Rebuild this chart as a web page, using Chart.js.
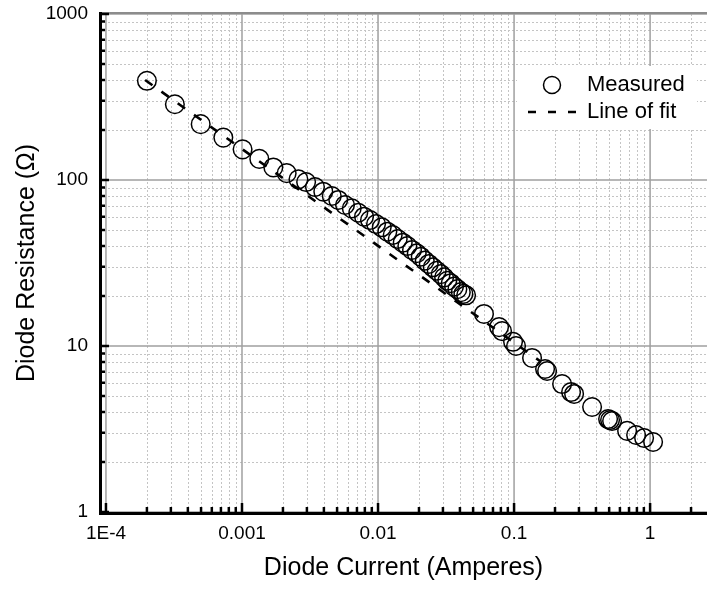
<!DOCTYPE html>
<html>
<head>
<meta charset="utf-8">
<script src="https://cdn.jsdelivr.net/npm/chart.js@4/dist/chart.umd.min.js"></script>
<style>
    html, body { margin: 0; padding: 0; background: #ffffff; }
    #wrap { width: 707px; height: 589px; position: relative; }
</style>
</head>
<body>
<div id="wrap"><canvas id="diodeChart"></canvas></div>
<script>
// measured points (current in A, resistance in ohm)
const measuredCurrent = [
    2.0e-4, 3.21e-4, 4.97e-4, 7.29e-4, 1.01e-3, 1.34e-3, 1.70e-3, 2.13e-3, 2.60e-3,
    2.96e-3, 3.44e-3, 3.96e-3, 4.57e-3, 5.10e-3, 5.72e-3, 6.41e-3, 7.16e-3, 7.89e-3,
    8.73e-3, 9.67e-3, 1.065e-2, 1.171e-2, 1.282e-2, 1.396e-2, 1.519e-2, 1.642e-2,
    1.778e-2, 1.926e-2, 2.061e-2, 2.205e-2, 2.36e-2, 2.525e-2, 2.70e-2, 2.89e-2,
    3.06e-2, 3.23e-2, 3.42e-2, 3.62e-2, 3.83e-2, 4.06e-2, 4.24e-2, 4.44e-2,
    6.01e-2, 7.76e-2, 8.16e-2, 9.83e-2, 0.1034, 0.1356, 0.169, 0.1749, 0.2254,
    0.2625, 0.2762, 0.3746, 0.491, 0.5078, 0.5254, 0.6776, 0.789, 0.9035, 1.052
];
const measuredResistance = [
    396, 286, 217, 180, 153, 134, 119, 110, 101,
    97.2, 90.7, 85.0, 80.1, 75.8, 70.7, 67.5, 63.5, 60.1,
    57.4, 54.3, 51.9, 48.8, 46.6, 44.1, 41.9, 40.0,
    37.9, 36.2, 34.5, 32.7, 31.2, 29.8, 28.4, 27.1,
    25.9, 24.7, 23.9, 22.8, 22.0, 21.1, 20.6, 20.2,
    15.6, 13.0, 12.3, 10.6, 10.0, 8.47, 7.27, 7.07, 5.90,
    5.28, 5.14, 4.29, 3.63, 3.58, 3.53, 3.08, 2.91, 2.79, 2.64
];

// straight line of fit (log-log), end points
const fitCurrent = [1.94e-4, 0.155];
const fitResistance = [400, 8.12];

const xTickValues = [1e-4, 1e-3, 1e-2, 1e-1, 1];
const xTickLabels = ['1E-4', '0.001', '0.01', '0.1', '1'];
const yTickValues = [1, 10, 100, 1000];
const yTickLabels = ['1', '10', '100', '1000'];

const X_MIN = 9.04e-5;
const X_MAX = 2.62;
const Y_MIN = 1;
const Y_MAX = 1000;

const FONT = "'Liberation Sans', Arial, sans-serif";

function logSteps(min, max) {
    const out = [];
    for(let d = Math.floor(Math.log10(min)); d <= Math.ceil(Math.log10(max)); d++) {
        for(let m = 1; m <= 9; m++) {
            const v = m * Math.pow(10, d);
            if(v >= min * 0.9999 && v <= max * 1.0001) out.push({ v: v, major: m === 1 });
        }
    }
    return out;
}

// grid, axis lines and inward ticks
const frame = {
    id: 'frame',
    beforeDatasetsDraw(chart) {
        const ctx = chart.ctx;
        const area = chart.chartArea;
        const xs = chart.scales.x;
        const ys = chart.scales.y;
        const xSteps = logSteps(X_MIN, X_MAX);
        const ySteps = logSteps(Y_MIN, Y_MAX);

        ctx.save();
        // minor dotted grid
        ctx.strokeStyle = '#c4c4c4';
        ctx.lineWidth = 1;
        ctx.setLineDash([2, 2]);
        ctx.beginPath();
        xSteps.filter(s => !s.major).forEach(s => {
            const px = Math.round(xs.getPixelForValue(s.v)) + 0.5;
            ctx.moveTo(px, area.top); ctx.lineTo(px, area.bottom);
        });
        ySteps.filter(s => !s.major).forEach(s => {
            const py = Math.round(ys.getPixelForValue(s.v)) + 0.5;
            ctx.moveTo(area.left, py); ctx.lineTo(area.right, py);
        });
        ctx.stroke();

        // major solid grid
        ctx.setLineDash([]);
        ctx.strokeStyle = '#a0a0a0';
        ctx.lineWidth = 1.5;
        ctx.beginPath();
        xSteps.filter(s => s.major).forEach(s => {
            const px = xs.getPixelForValue(s.v);
            ctx.moveTo(px, area.top); ctx.lineTo(px, area.bottom);
        });
        ySteps.filter(s => s.major).forEach(s => {
            const py = ys.getPixelForValue(s.v);
            ctx.moveTo(area.left, py); ctx.lineTo(area.right, py);
        });
        ctx.stroke();

        // top border
        ctx.strokeStyle = '#8c8c8c';
        ctx.lineWidth = 2;
        ctx.beginPath();
        ctx.moveTo(area.left, area.top - 1);
        ctx.lineTo(area.right, area.top - 1);
        ctx.stroke();

        // inward tick marks
        ctx.strokeStyle = '#000000';
        ctx.lineWidth = 2.5;
        ctx.beginPath();
        ySteps.forEach(s => {
            const py = ys.getPixelForValue(s.v);
            ctx.moveTo(area.left, py); ctx.lineTo(area.left + (s.major ? 9 : 5), py);
        });
        xSteps.forEach(s => {
            const px = xs.getPixelForValue(s.v);
            ctx.moveTo(px, area.bottom); ctx.lineTo(px, area.bottom - (s.major ? 9 : 5));
        });
        ctx.stroke();

        // thick axes
        ctx.lineWidth = 3;
        ctx.beginPath();
        ctx.moveTo(area.left + 0.5, area.top - 2);
        ctx.lineTo(area.left + 0.5, area.bottom + 1.5);
        ctx.lineTo(area.right, area.bottom + 1.5);
        ctx.stroke();
        ctx.restore();
    }
};

const legendBox = {
    id: 'legendBox',
    afterDatasetsDraw(chart) {
        const ctx = chart.ctx;
        const area = chart.chartArea;
        const x0 = area.right - 190;
        const y0 = area.top + 52;
        ctx.save();
        ctx.fillStyle = '#ffffff';
        ctx.fillRect(x0, y0, 180, 63);

        ctx.strokeStyle = '#000000';
        ctx.lineWidth = 1.5;
        ctx.beginPath();
        ctx.arc(x0 + 35, y0 + 19, 8.5, 0, Math.PI * 2);
        ctx.stroke();

        ctx.lineWidth = 2.6;
        ctx.setLineDash([8, 12]);
        ctx.beginPath();
        ctx.moveTo(x0 + 11, y0 + 46);
        ctx.lineTo(x0 + 62, y0 + 46);
        ctx.stroke();
        ctx.setLineDash([]);

        ctx.fillStyle = '#000000';
        ctx.font = '22px ' + FONT;
        ctx.textBaseline = 'middle';
        ctx.textAlign = 'left';
        ctx.fillText('Measured', x0 + 70, y0 + 19);
        ctx.fillText('Line of fit', x0 + 70, y0 + 46);
        ctx.restore();
    }
};

const measuredPoints = measuredCurrent.map((c, i) => ({ x: c, y: measuredResistance[i] }));
const fitPoints = fitCurrent.map((c, i) => ({ x: c, y: fitResistance[i] }));

new Chart(document.getElementById('diodeChart'), {
    type: 'scatter',
    data: {
        datasets: [
            {
                label: 'Line of fit',
                data: fitPoints,
                showLine: true,
                borderColor: '#000000',
                borderWidth: 2.6,
                borderDash: [9, 11],
                pointRadius: 0,
                fill: false
            },
            {
                label: 'Measured',
                data: measuredPoints,
                pointStyle: 'circle',
                pointRadius: 9.3,
                pointBorderWidth: 1.5,
                borderColor: '#000000',
                backgroundColor: 'rgba(0,0,0,0)'
            }
        ]
    },
    options: {
        responsive: true,
        maintainAspectRatio: false,
        animation: false,
        layout: { autoPadding: false, padding: { top: 14, right: 0, left: 0, bottom: 0 } },
        plugins: {
            legend: { display: false },
            tooltip: { enabled: false }
        },
        scales: {
            x: {
                type: 'logarithmic',
                min: X_MIN,
                max: X_MAX,
                afterBuildTicks: scale => { scale.ticks = xTickValues.map(v => ({ value: v })); },
                afterFit: scale => { scale.height = 77; },
                grid: { display: true, drawOnChartArea: false, drawTicks: true, tickLength: 10, color: 'rgba(0,0,0,0)' },
                border: { display: false },
                ticks: {
                    color: '#000000',
                    font: { family: FONT, size: 19 },
                    padding: 0,
                    maxRotation: 0,
                    autoSkip: false,
                    callback: (value, index) => xTickLabels[index]
                },
                title: {
                    display: true,
                    text: 'Diode Current (Amperes)',
                    color: '#000000',
                    font: { family: FONT, size: 25, lineHeight: 1.2 },
                    padding: { top: 0, bottom: 6 }
                }
            },
            y: {
                type: 'logarithmic',
                min: Y_MIN,
                max: Y_MAX,
                afterBuildTicks: scale => { scale.ticks = yTickValues.map(v => ({ value: v })); },
                afterFit: scale => { scale.width = 100; },
                grid: { display: true, drawOnChartArea: false, drawTicks: true, tickLength: 12, color: 'rgba(0,0,0,0)' },
                border: { display: false },
                ticks: {
                    color: '#000000',
                    font: { family: FONT, size: 19 },
                    padding: 0,
                    autoSkip: false,
                    callback: (value, index) => yTickLabels[index]
                },
                title: {
                    display: true,
                    text: 'Diode Resistance (Ω)',
                    color: '#000000',
                    font: { family: FONT, size: 25, lineHeight: 1.2 },
                    padding: { top: 12, bottom: 0 }
                }
            }
        }
    },
    plugins: [frame, legendBox]
});
</script>
</body>
</html>
